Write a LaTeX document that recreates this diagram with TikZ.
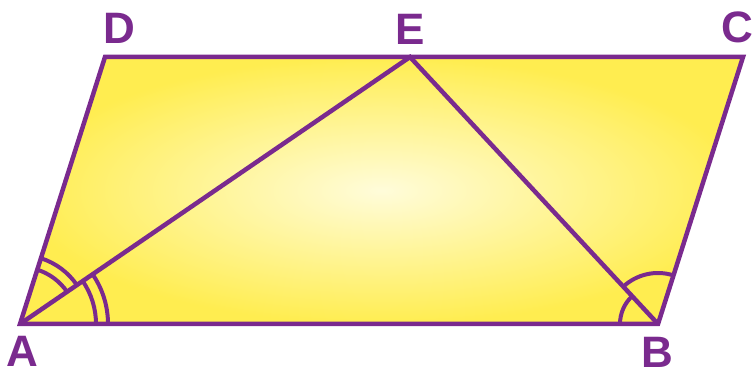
\documentclass[tikz,border=0pt]{standalone}
\usepackage{fontspec}
\setmainfont{Liberation Sans}
\usetikzlibrary{angles}
\definecolor{lin}{RGB}{122,42,142}
\definecolor{yelo}{RGB}{255,237,80}
\definecolor{yeli}{RGB}{255,252,218}
\tikzset{
  edge/.style={draw=lin,line width=4.5pt},
  lbl/.style={text=lin,font=\fontsize{44}{44}\selectfont\bfseries,inner sep=0pt,anchor=center},
  arcmark/.style={draw=lin,line width=4pt}
}
\begin{document}
\begin{tikzpicture}[x=1pt,y=1pt]
\useasboundingbox (0,0) rectangle (752,377);
\coordinate (A) at (20,53);
\coordinate (B) at (658,53);
\coordinate (C) at (743,320);
\coordinate (D) at (105,320);
\coordinate (E) at (410,320);
\shade[inner color=yeli,outer color=yelo] (A) -- (B) -- (C) -- (D) -- cycle;
\pic[arcmark,angle radius=57] {angle=E--A--D};
\pic[arcmark,angle radius=69] {angle=E--A--D};
\pic[arcmark,angle radius=76] {angle=B--A--E};
\pic[arcmark,angle radius=88] {angle=B--A--E};
\pic[arcmark,angle radius=38] {angle=E--B--A};
\pic[arcmark,angle radius=51] {angle=C--B--E};
\draw[edge] (A) -- (E) -- (B);
\draw[edge] (A) -- (B) -- (C) -- (D) -- cycle;
\node[lbl] (la) at (22,26) {A};
\node[lbl] (lb) at (657,25) {B};
\node[lbl] (lc) at (737,350) {C};
\node[lbl] (ld) at (119,349) {D};
\node[lbl] (le) at (410,348) {E};
\end{tikzpicture}
\end{document}
